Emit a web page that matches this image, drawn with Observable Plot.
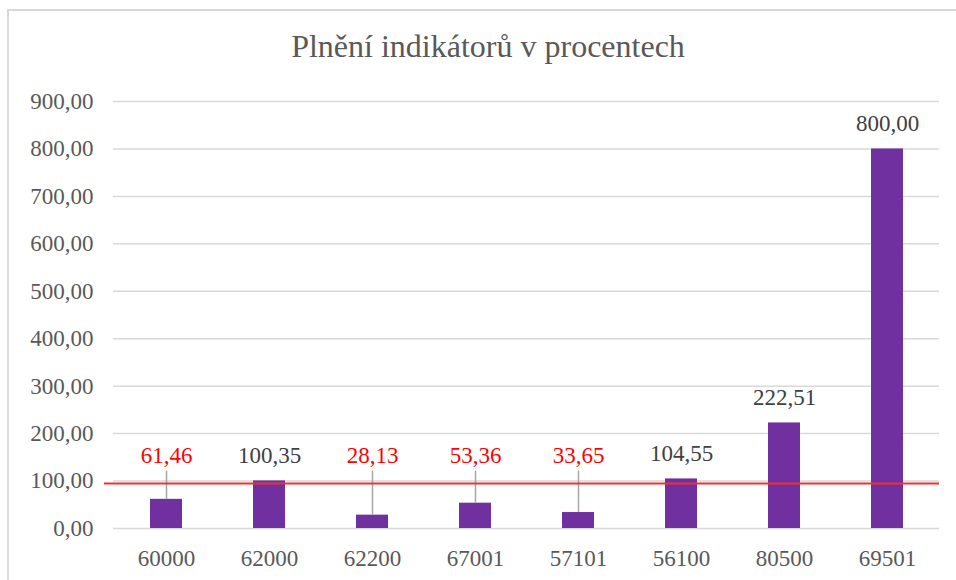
<!DOCTYPE html>
<html><head><meta charset="utf-8">
<script src="https://cdn.jsdelivr.net/npm/d3@7"></script>
<script src="https://cdn.jsdelivr.net/npm/@observablehq/plot@0.6"></script>
<style>
body{margin:0;background:#fff;}
#wrap{position:relative;width:956px;height:580px;overflow:hidden;font-family:"Liberation Serif","Times New Roman",serif;}
#frame{position:absolute;left:7px;top:9px;width:1000px;height:1000px;border:2px solid #d9d9d9;box-sizing:border-box;pointer-events:none;}
#title{height:80px;box-sizing:border-box;padding-top:28px;padding-left:20px;text-align:center;font-size:32px;line-height:36px;color:#595959;}
#chart svg{display:block}
</style></head>
<body><div id="wrap"><div id="frame"></div><div id="title">Plnění indikátorů v procentech</div><div id="chart"></div></div>
<script>
const categories = ["60000","62000","62200","67001","57101","56100","80500","69501"];
const values = [61.46, 100.35, 28.13, 53.36, 33.65, 104.55, 222.51, 800.00];
const yTicks = [0,100,200,300,400,500,600,700,800,900];
const targetLine = 95;
const labelFloor = 100;

const plotH = 500, mT = 21, mB = 52;
const pxPerUnit = (plotH - mT - mB) / 900;
const leaderTop = labelFloor + 10 / pxPerUnit;
const rows = categories.map((c, i) => ({cat: c, value: values[i], below: values[i] < labelFloor}));
const fmt = v => v.toFixed(2).replace(".", ",");
const font = '"Liberation Serif","Times New Roman",serif';

const chart = Plot.plot({
  width: 956, height: plotH, marginTop: mT, marginBottom: mB, marginLeft: 113, marginRight: 17,
  style: {fontFamily: font, fontSize: "23px", color: "#595959", background: "transparent", overflow: "visible"},
  x: {domain: categories, paddingInner: 0.69, paddingOuter: 0.345, label: null, tickSize: 0, tickPadding: 21},
  y: {domain: [0, 900], ticks: yTicks, tickFormat: fmt, label: null, tickSize: 0, tickPadding: 20},
  color: {type: "identity"},
  marks: [
    Plot.gridY(yTicks, {stroke: "#d9d9d9", strokeOpacity: 1, strokeWidth: 1.5}),
    Plot.barY(rows, {x: "cat", y: "value", fill: "#7030A0"}),
    Plot.ruleX(rows.filter(d => d.below), {x: "cat", y1: "value", y2: d => leaderTop, stroke: "#a6a6a6", strokeWidth: 1.5}),
    Plot.ruleY([targetLine], {stroke: "#f03030", strokeWidth: 2, insetLeft: -9}),
    Plot.text(rows, {x: "cat", y: d => Math.max(d.value, labelFloor), text: d => fmt(d.value), dy: -25, lineAnchor: "middle",
      fill: d => d.below ? "#ff0000" : "#404040", fontSize: 23, fontFamily: font})
  ]
});
document.getElementById("chart").appendChild(chart);
</script>
</body></html>
